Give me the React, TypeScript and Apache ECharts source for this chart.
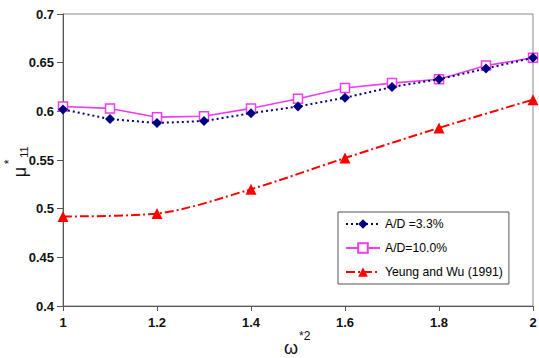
import React, { useEffect, useRef } from "react";
import * as echarts from "echarts";

const xValues = [1.0, 1.1, 1.2, 1.3, 1.4, 1.5, 1.6, 1.7, 1.8, 1.9, 2.0];
const ad33 = [0.602, 0.592, 0.588, 0.590, 0.598, 0.605, 0.614, 0.625, 0.633, 0.644, 0.655];
const ad10 = [0.605, 0.603, 0.594, 0.595, 0.603, 0.613, 0.624, 0.629, 0.633, 0.647, 0.655];
const yeungX = [1.0, 1.2, 1.4, 1.6, 1.8, 2.0];
const yeung = [0.492, 0.495, 0.520, 0.552, 0.583, 0.612];
const seriesNames = ["A/D =3.3%", "A/D=10.0%", "Yeung and Wu (1991)"];

const FONT = "Liberation Sans, Arial, sans-serif";

export default function App() {
  const ref = useRef<HTMLDivElement>(null);
  useEffect(() => {
    document.body.style.margin = "0";
    const chart = echarts.init(ref.current!, null, { renderer: "svg" });
    const pairs = (xs: number[], ys: number[]) => xs.map((x, i) => [x, ys[i]]);
    const txt = (text: string, x: number, y: number, size: number, rot = 0, align = "center") => ({
      type: "text",
      x,
      y,
      rotation: rot,
      style: {
        text,
        fontSize: size,
        fontFamily: FONT,
        fill: "#111",
        align,
        verticalAlign: "middle",
      },
      z: 10,
    });
    chart.setOption({
      animation: false,
      backgroundColor: "#ffffff",
      textStyle: { fontFamily: FONT },
      grid: {
        left: 63,
        right: 6,
        top: 14,
        bottom: 52,
        containLabel: false,
        outerBoundsMode: "none",
        show: true,
        borderColor: "#8a8a8a",
        borderWidth: 1,
      },
      legend: {
        left: 338,
        top: 212,
        orient: "vertical",
        itemWidth: 34,
        itemHeight: 12,
        itemGap: 12,
        padding: [6, 6, 6, 7],
        borderColor: "#555",
        borderWidth: 1,
        backgroundColor: "#fff",
        textStyle: { fontFamily: FONT, fontSize: 12.2, color: "#000" },
        data: seriesNames,
      },
      graphic: [
        txt("ω", 284, 348, 18, 0, "left"),
        txt("*2", 299, 336, 12, 0, "left"),
        txt("μ", 20, 172, 18, Math.PI / 2),
        txt("*", 9, 162, 12, Math.PI / 2),
        txt("11", 24, 152, 11, Math.PI / 2),
      ],
      xAxis: {
        type: "value",
        min: 1,
        max: 2,
        interval: 0.2,
        splitLine: { show: false },
        axisLine: { onZero: false, lineStyle: { color: "#555", width: 1 } },
        axisTick: { show: true, length: 5, lineStyle: { color: "#555" } },
        axisLabel: {
          color: "#111",
          fontSize: 13,
          fontWeight: "bold",
          fontFamily: FONT,
          margin: 10,
          formatter: (v: number) => String(Math.round(v * 10) / 10),
        },
      },
      yAxis: {
        type: "value",
        min: 0.4,
        max: 0.7,
        interval: 0.05,
        splitLine: { show: false },
        axisLine: { show: true, lineStyle: { color: "#555", width: 1 } },
        axisTick: { show: true, length: 6, lineStyle: { color: "#555" } },
        axisLabel: {
          color: "#111",
          fontSize: 13,
          fontWeight: "bold",
          fontFamily: FONT,
          margin: 9,
          formatter: (v: number) => String(Math.round(v * 100) / 100),
        },
      },
      series: [
        {
          name: seriesNames[0],
          type: "line",
          data: pairs(xValues, ad33),
          symbol: "diamond",
          symbolSize: 10,
          itemStyle: { color: "#000080" },
          lineStyle: { color: "#000080", width: 2, type: [2, 3] },
          z: 3,
        },
        {
          name: seriesNames[1],
          type: "line",
          data: pairs(xValues, ad10),
          symbol: "rect",
          symbolSize: 9,
          itemStyle: { color: "#ffffff", borderColor: "#ee3cee", borderWidth: 1.5 },
          lineStyle: { color: "#ee3cee", width: 1.6, type: "solid" },
          z: 2,
        },
        {
          name: seriesNames[2],
          type: "line",
          data: pairs(yeungX, yeung),
          symbol: "triangle",
          symbolSize: 11,
          smooth: 0.3,
          itemStyle: { color: "#ff0000" },
          lineStyle: { color: "#ff0000", width: 2, type: [9, 3, 2, 3] },
          z: 4,
        },
      ],
    });
    return () => chart.dispose();
  }, []);
  return <div ref={ref} style={{ width: 539, height: 358 }} />;
}
